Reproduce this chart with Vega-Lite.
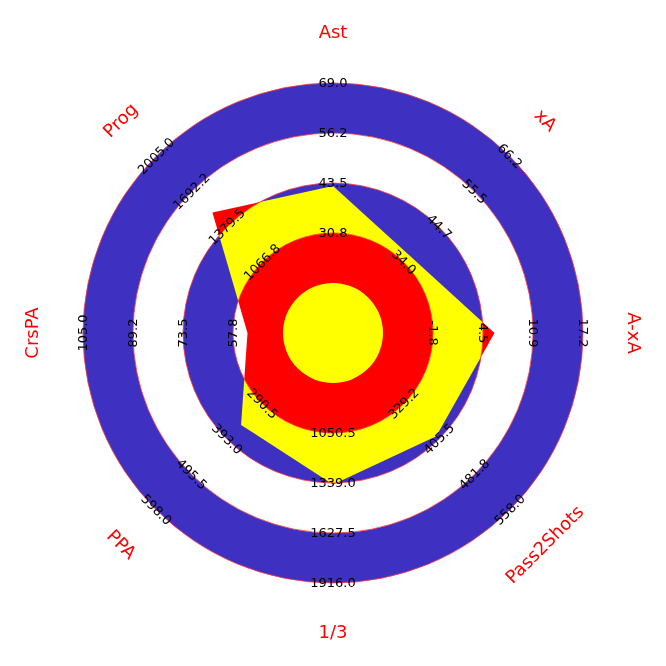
{
  "$schema": "https://vega.github.io/schema/vega-lite/v6.json",
  "width": 666,
  "height": 666,
  "padding": 0,
  "autosize": {"type": "none"},
  "background": "white",
  "config": {"view": {"stroke": null}},
  "datasets": {
    "rings": [
      {"ring": "A0", "ri": 0, "ro": 1},
      {"ring": "A1", "ri": 1, "ro": 2},
      {"ring": "A2", "ri": 2, "ro": 3},
      {"ring": "A3", "ri": 3, "ro": 4},
      {"ring": "A4", "ri": 4, "ro": 5}
    ],
    "radar": [
      {"i": 0, "stat": "Ast", "b": 0, "value": 42.8, "r": 2.94},
      {"i": 1, "stat": "xA", "b": 45, "value": 35.9, "r": 2.18},
      {"i": 2, "stat": "A-xA", "b": 90, "value": 6.0, "r": 3.23},
      {"i": 3, "stat": "Pass2Shots", "b": 135, "value": 399.4, "r": 2.92},
      {"i": 4, "stat": "1/3", "b": 180, "value": 1347.7, "r": 3.03},
      {"i": 5, "stat": "PPA", "b": 225, "value": 352.0, "r": 2.6},
      {"i": 6, "stat": "CrsPA", "b": 270, "value": 53.2, "r": 1.71},
      {"i": 7, "stat": "Prog", "b": 315, "value": 1507.8, "r": 3.41}
    ],
    "ticks": [
      {"stat": "Ast", "b": 0, "ring": 2, "label": "30.8"},
      {"stat": "Ast", "b": 0, "ring": 3, "label": "43.5"},
      {"stat": "Ast", "b": 0, "ring": 4, "label": "56.2"},
      {"stat": "Ast", "b": 0, "ring": 5, "label": "69.0"},
      {"stat": "xA", "b": 45, "ring": 2, "label": "34.0"},
      {"stat": "xA", "b": 45, "ring": 3, "label": "44.7"},
      {"stat": "xA", "b": 45, "ring": 4, "label": "55.5"},
      {"stat": "xA", "b": 45, "ring": 5, "label": "66.2"},
      {"stat": "A-xA", "b": 90, "ring": 2, "label": "-1.8"},
      {"stat": "A-xA", "b": 90, "ring": 3, "label": "4.5"},
      {"stat": "A-xA", "b": 90, "ring": 4, "label": "10.9"},
      {"stat": "A-xA", "b": 90, "ring": 5, "label": "17.2"},
      {"stat": "Pass2Shots", "b": 135, "ring": 2, "label": "329.2"},
      {"stat": "Pass2Shots", "b": 135, "ring": 3, "label": "405.5"},
      {"stat": "Pass2Shots", "b": 135, "ring": 4, "label": "481.8"},
      {"stat": "Pass2Shots", "b": 135, "ring": 5, "label": "558.0"},
      {"stat": "1/3", "b": 180, "ring": 2, "label": "1050.5"},
      {"stat": "1/3", "b": 180, "ring": 3, "label": "1339.0"},
      {"stat": "1/3", "b": 180, "ring": 4, "label": "1627.5"},
      {"stat": "1/3", "b": 180, "ring": 5, "label": "1916.0"},
      {"stat": "PPA", "b": 225, "ring": 2, "label": "290.5"},
      {"stat": "PPA", "b": 225, "ring": 3, "label": "393.0"},
      {"stat": "PPA", "b": 225, "ring": 4, "label": "495.5"},
      {"stat": "PPA", "b": 225, "ring": 5, "label": "598.0"},
      {"stat": "CrsPA", "b": 270, "ring": 2, "label": "57.8"},
      {"stat": "CrsPA", "b": 270, "ring": 3, "label": "73.5"},
      {"stat": "CrsPA", "b": 270, "ring": 4, "label": "89.2"},
      {"stat": "CrsPA", "b": 270, "ring": 5, "label": "105.0"},
      {"stat": "Prog", "b": 315, "ring": 2, "label": "1066.8"},
      {"stat": "Prog", "b": 315, "ring": 3, "label": "1379.5"},
      {"stat": "Prog", "b": 315, "ring": 4, "label": "1692.2"},
      {"stat": "Prog", "b": 315, "ring": 5, "label": "2005.0"}
    ]
  },
  "layer": [
    {
      "data": {"name": "rings"},
      "transform": [{"filter": "datum.ring === 'A4'"}],
      "mark": {"type": "arc", "theta": 0, "theta2": 6.2832, "fill": "#3e31c1", "strokeWidth": 0},
      "encoding": {
        "radius": {"field": "ro", "type": "quantitative", "scale": {"type": "linear", "domain": [0, 5], "range": [0, 250], "zero": true}},
        "radius2": {"field": "ri"}
      }
    },
    {
      "data": {"name": "rings"},
      "transform": [{"filter": "datum.ring === 'A2'"}],
      "mark": {"type": "arc", "theta": 0, "theta2": 6.2832, "fill": "#3ecec1", "strokeWidth": 0},
      "encoding": {
        "radius": {"field": "ro", "type": "quantitative"},
        "radius2": {"field": "ri"}
      }
    },
    {
      "data": {"name": "radar"},
      "transform": [
        {"calculate": "datum.r * sin(datum.b * PI / 180)", "as": "x"},
        {"calculate": "datum.r * cos(datum.b * PI / 180)", "as": "y"}
      ],
      "mark": {"type": "line", "interpolate": "linear-closed", "filled": true, "color": "#ff0000", "strokeWidth": 0},
      "encoding": {
        "x": {"field": "x", "type": "quantitative", "scale": {"domain": [-6.66, 6.66], "nice": false, "zero": false}, "axis": null},
        "y": {"field": "y", "type": "quantitative", "scale": {"domain": [-6.66, 6.66], "nice": false, "zero": false}, "axis": null},
        "order": {"field": "i", "type": "quantitative"}
      }
    },
    {
      "data": {"name": "rings"},
      "transform": [{"filter": "datum.ring === 'A2'"}],
      "mark": {"type": "arc", "theta": 0, "theta2": 6.2832, "fill": "#00ff00", "strokeWidth": 0, "blend": "difference"},
      "encoding": {
        "radius": {"field": "ro", "type": "quantitative"},
        "radius2": {"field": "ri"}
      }
    },
    {
      "data": {"name": "rings"},
      "transform": [{"filter": "datum.ring === 'A0'"}],
      "mark": {"type": "arc", "theta": 0, "theta2": 6.2832, "fill": "#ffff00", "strokeWidth": 0},
      "encoding": {
        "radius": {"field": "ro", "type": "quantitative"},
        "radius2": {"field": "ri"}
      }
    },
    {
      "data": {"name": "rings"},
      "transform": [{"filter": "datum.ring === 'A2' || datum.ring === 'A4'"}],
      "mark": {"type": "arc", "theta": 0, "theta2": 6.2832, "filled": false, "fill": null, "stroke": "#ff3a3a", "strokeWidth": 0.8},
      "encoding": {
        "radius": {"field": "ro", "type": "quantitative"},
        "radius2": {"field": "ri"}
      }
    },
    {
      "data": {"name": "ticks"},
      "transform": [
        {"calculate": "datum.ring * sin(datum.b * PI / 180)", "as": "x"},
        {"calculate": "datum.ring * cos(datum.b * PI / 180)", "as": "y"},
        {"calculate": "(datum.b > 90 && datum.b < 270) ? datum.b - 180 : datum.b", "as": "rot"}
      ],
      "mark": {"type": "text", "font": "DejaVu Sans", "fontSize": 13, "color": "#000000", "align": "center", "baseline": "middle"},
      "encoding": {
        "x": {"field": "x", "type": "quantitative"},
        "y": {"field": "y", "type": "quantitative"},
        "text": {"field": "label", "type": "nominal"},
        "angle": {"field": "rot", "type": "quantitative", "scale": null}
      }
    },
    {
      "data": {"name": "radar"},
      "transform": [
        {"calculate": "6 * sin(datum.b * PI / 180)", "as": "x"},
        {"calculate": "6 * cos(datum.b * PI / 180)", "as": "y"},
        {"calculate": "(datum.b > 90 && datum.b < 270) ? datum.b - 180 : datum.b", "as": "rot"}
      ],
      "mark": {"type": "text", "font": "DejaVu Sans", "fontSize": 18, "color": "#ff0000", "align": "center", "baseline": "middle"},
      "encoding": {
        "x": {"field": "x", "type": "quantitative"},
        "y": {"field": "y", "type": "quantitative"},
        "text": {"field": "stat", "type": "nominal"},
        "angle": {"field": "rot", "type": "quantitative", "scale": null}
      }
    }
  ]
}
